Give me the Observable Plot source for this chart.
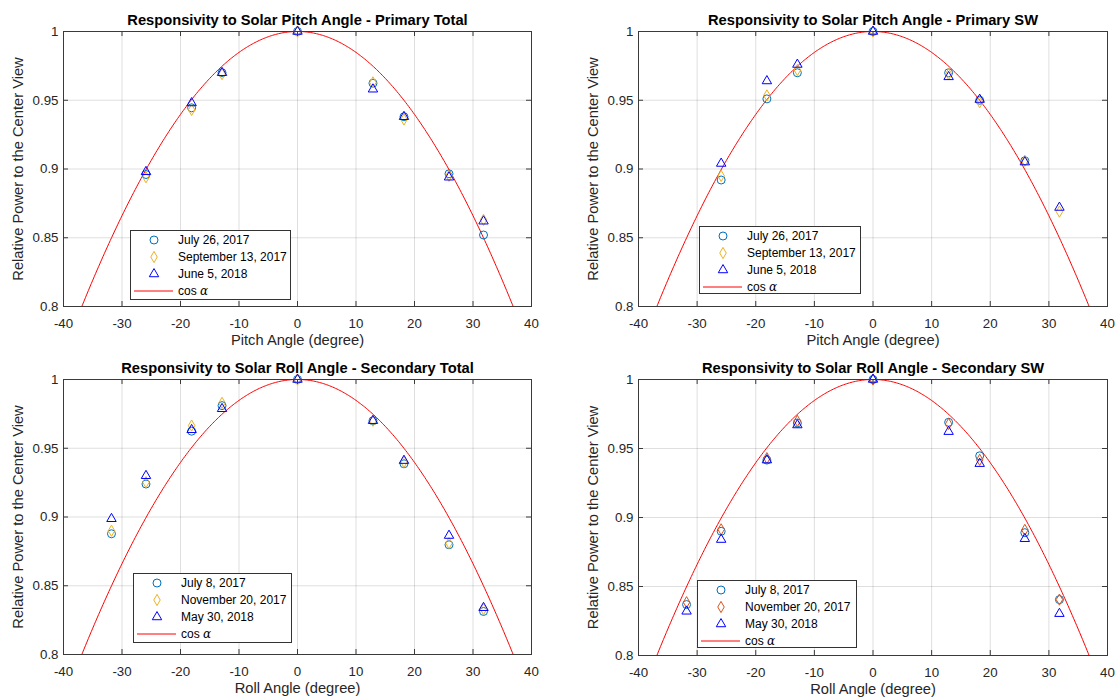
<!DOCTYPE html>
<html>
<head>
<meta charset="utf-8">
<script src="https://cdn.jsdelivr.net/npm/d3@7"></script>
<script src="https://cdn.jsdelivr.net/npm/@observablehq/plot@0.6"></script>
<style>
  html, body { margin: 0; padding: 0; background: #fff; }
  #root { position: relative; width: 1115px; height: 697px; background: #fff; overflow: hidden;
          font-family: "Liberation Sans", Arial, sans-serif; }
  #root > svg, #root > div { position: absolute; }
</style>
</head>
<body>
<div id="root"></div>
<script>
// ---------------- data ----------------
const xTicks = [-40, -30, -20, -10, 0, 10, 20, 30, 40];
const yTicks = [0.8, 0.85, 0.9, 0.95, 1];

const anglesPrimary   = [-25.9, -18.1, -12.9, 0, 12.9, 18.2, 25.9, 31.8];
const anglesSecondary = [-31.8, -25.9, -18.1, -12.9, 0, 12.9, 18.2, 25.9, 31.8];

const seriesNamesPrimary   = ["July 26, 2017", "September 13, 2017", "June 5, 2018"];
const seriesNamesSecondary = ["July 8, 2017", "November 20, 2017", "May 30, 2018"];

// Primary Total (pitch)
const primaryTotalJul26 = [0.896, 0.9445, 0.970, 1.000, 0.9624, 0.938, 0.8965, 0.852];
const primaryTotalSep13 = [0.894, 0.943, 0.969, 1.000, 0.963, 0.936, 0.895, 0.863];
const primaryTotalJun05 = [0.898, 0.948, 0.970, 1.000, 0.958, 0.938, 0.894, 0.862];

// Primary SW (pitch)
const primarySWJul26 = [0.892, 0.951, 0.970, 1.000, 0.970, 0.950, 0.906, null];
const primarySWSep13 = [0.895, 0.9535, 0.972, 1.000, 0.969, 0.9486, 0.906, 0.869];
const primarySWJun05 = [0.904, 0.964, 0.976, 1.000, 0.967, 0.9505, 0.905, 0.872];

// Secondary Total (roll)
const secondaryTotalJul08 = [0.8878, 0.924, 0.9624, 0.981, 1.000, 0.970, 0.9387, 0.8798, 0.8313];
const secondaryTotalNov20 = [0.890, 0.9253, 0.9665, 0.983, 1.000, 0.970, 0.940, 0.881, 0.833];
const secondaryTotalMay30 = [0.8987, 0.930, 0.9634, 0.9787, 1.000, 0.970, 0.941, 0.8865, 0.834];

// Secondary SW (roll)
const secondarySWJul08 = [0.8369, 0.890, 0.9416, 0.9685, 1.000, 0.969, 0.9447, 0.889, 0.8405];
const secondarySWNov20 = [0.8386, 0.8914, 0.943, 0.970, 1.000, 0.9678, 0.9418, 0.891, 0.8405];
const secondarySWMay30 = [0.832, 0.884, 0.9416, 0.967, 1.000, 0.9622, 0.939, 0.8846, 0.8303];

const titles = [
  "Responsivity to Solar Pitch Angle - Primary Total",
  "Responsivity to Solar Pitch Angle - Primary SW",
  "Responsivity to Solar Roll Angle - Secondary Total",
  "Responsivity to Solar Roll Angle - Secondary SW"
];
const xLabels = ["Pitch Angle (degree)", "Pitch Angle (degree)", "Roll Angle (degree)", "Roll Angle (degree)"];
const yLabel = "Relative Power to the Center View";
const curveLabel = "cos";
const curveSymbol = "\u03B1";

// reference curve cos(alpha), alpha in degrees
const curveAngles = d3.range(-40, 40.001, 0.25);
const cosCurve = curveAngles.map(a => ({angle: a, value: Math.cos(a * Math.PI / 180)}));

// ---------------- styles / layout ----------------
const FONT = '"Liberation Sans", Arial, sans-serif';
const AXIS = "#262626";
const circleColor = "#0072BD";
const yellowColor = "#EDB120";
const orangeColor = "#D95319";
const triangleColor = "#0000FF";
const lineColor = "#FF0000";

const panels = [
  {title: titles[0], xLabel: xLabels[0], angles: anglesPrimary, names: seriesNamesPrimary,
   values: [primaryTotalJul26, primaryTotalSep13, primaryTotalJun05], diamondColor: yellowColor,
   pos: {left: 0, top: 0, width: 557, height: 348, ml: 63, mr: 26, mt: 31, mb: 42},
   legend: {x: 130, y: 230, w: 161, h: 70}},
  {title: titles[1], xLabel: xLabels[1], angles: anglesPrimary, names: seriesNamesPrimary,
   values: [primarySWJul26, primarySWSep13, primarySWJun05], diamondColor: yellowColor,
   pos: {left: 557, top: 0, width: 558, height: 348, ml: 81, mr: 8, mt: 31, mb: 42},
   legend: {x: 699, y: 226, w: 162, h: 68}},
  {title: titles[2], xLabel: xLabels[2], angles: anglesSecondary, names: seriesNamesSecondary,
   values: [secondaryTotalJul08, secondaryTotalNov20, secondaryTotalMay30], diamondColor: yellowColor,
   pos: {left: 0, top: 348, width: 557, height: 349, ml: 63, mr: 26, mt: 31, mb: 43},
   legend: {x: 133, y: 573, w: 159, h: 70}},
  {title: titles[3], xLabel: xLabels[3], angles: anglesSecondary, names: seriesNamesSecondary,
   values: [secondarySWJul08, secondarySWNov20, secondarySWMay30], diamondColor: orangeColor,
   pos: {left: 557, top: 348, width: 558, height: 349, ml: 81, mr: 8, mt: 31, mb: 42},
   legend: {x: 697, y: 580, w: 160, h: 68}}
];

const symbols = ["circle", "diamond", "triangle"];
const radii = [4, 3.4, 3.5];

const root = document.getElementById("root");

panels.forEach(p => {
  const {left, top, width, height, ml, mr, mt, mb} = p.pos;
  const iw = width - ml - mr, ih = height - mt - mb;
  const colors = [circleColor, p.diamondColor, triangleColor];

  const dotMarks = p.values.map((vals, k) =>
    Plot.dot(
      p.angles.map((a, i) => ({angle: a, value: vals[i]})).filter(d => d.value != null),
      {x: "angle", y: "value", symbol: symbols[k], r: radii[k], fill: "none", stroke: colors[k], strokeWidth: 1}
    )
  );

  const chart = Plot.plot({
    width, height,
    marginLeft: ml, marginRight: mr, marginTop: mt, marginBottom: mb,
    x: {domain: [-40, 40], label: null},
    y: {domain: [0.8, 1], label: null},
    style: {fontFamily: FONT, fontSize: "13.3px", color: AXIS, background: "transparent", overflow: "visible"},
    marks: [
      Plot.gridX({ticks: xTicks, stroke: AXIS, strokeOpacity: 0.15}),
      Plot.gridY({ticks: yTicks, stroke: AXIS, strokeOpacity: 0.15}),
      Plot.line(cosCurve, {x: "angle", y: "value", stroke: lineColor, strokeWidth: 1, clip: true}),
      ...dotMarks,
      Plot.frame({stroke: "#3a3a3a"}),
      Plot.ruleX(xTicks, {x: d => d, insetTop: ih - 5, stroke: "#3a3a3a"}),
      Plot.ruleX(xTicks, {x: d => d, insetBottom: ih - 5, stroke: "#3a3a3a"}),
      Plot.ruleY(yTicks, {y: d => d, insetRight: iw - 5, stroke: "#3a3a3a"}),
      Plot.ruleY(yTicks, {y: d => d, insetLeft: iw - 5, stroke: "#3a3a3a"}),
      Plot.axisX({ticks: xTicks, tickSize: 0, tickPadding: 12, tickFormat: d => String(d), label: null, fontSize: 13.3, fill: AXIS}),
      Plot.axisY({ticks: yTicks, tickSize: 0, tickPadding: 5, tickFormat: d => String(d), label: null, fontSize: 13.3, fill: AXIS}),
      Plot.text([p.title], {frameAnchor: "top", textAnchor: "middle", lineAnchor: "bottom", dy: -7,
                            fontWeight: "bold", fontSize: 14.7, fill: "#000"}),
      Plot.text([p.xLabel], {frameAnchor: "bottom", textAnchor: "middle", lineAnchor: "bottom", dy: 38,
                             fontSize: 14.7, fill: AXIS}),
      Plot.text([yLabel], {frameAnchor: "left", textAnchor: "middle", lineAnchor: "middle", rotate: -90, dx: -45,
                           fontSize: 14.7, fill: AXIS})
    ]
  });
  chart.style.left = left + "px";
  chart.style.top = top + "px";
  chart.style.position = "absolute";
  root.appendChild(chart);
});

// ---------------- legends ----------------
const overlay = d3.select(root).append("svg")
  .attr("width", 1115).attr("height", 697)
  .style("left", "0px").style("top", "0px").style("position", "absolute")
  .style("pointer-events", "none")
  .style("font-family", FONT);

panels.forEach(p => {
  const L = p.legend;
  const g = overlay.append("g").attr("transform", `translate(${L.x},${L.y})`);
  g.append("rect").attr("x", 0.5).attr("y", 0.5).attr("width", L.w - 1).attr("height", L.h - 1)
    .attr("fill", "#fff").attr("stroke", "#333").attr("stroke-width", 1);
  const colors = [circleColor, p.diamondColor, triangleColor];
  const rowY = i => 10 + i * 17;
  p.names.forEach((name, k) => {
    g.append("path")
      .attr("transform", `translate(24,${rowY(k)})`)
      .attr("d", d3.symbol().type(k === 0 ? d3.symbolCircle : k === 1 ? d3.symbolDiamond : d3.symbolTriangle)
                 .size(Math.PI * radii[k] * radii[k])())
      .attr("fill", "none").attr("stroke", colors[k]).attr("stroke-width", 1);
    g.append("text").attr("x", 48).attr("y", rowY(k)).attr("dy", "0.35em")
      .attr("font-size", 12).attr("fill", "#000").text(name);
  });
  g.append("line").attr("x1", 4).attr("x2", 43).attr("y1", rowY(3)).attr("y2", rowY(3))
    .attr("stroke", lineColor).attr("stroke-width", 1);
  const t = g.append("text").attr("x", 48).attr("y", rowY(3)).attr("dy", "0.35em")
    .attr("font-size", 12).attr("fill", "#000");
  t.append("tspan").text(curveLabel + " ");
  t.append("tspan").attr("font-family", '"DejaVu Serif", "Liberation Serif", serif')
    .attr("font-style", "italic").text(curveSymbol);
});
</script>
</body>
</html>
